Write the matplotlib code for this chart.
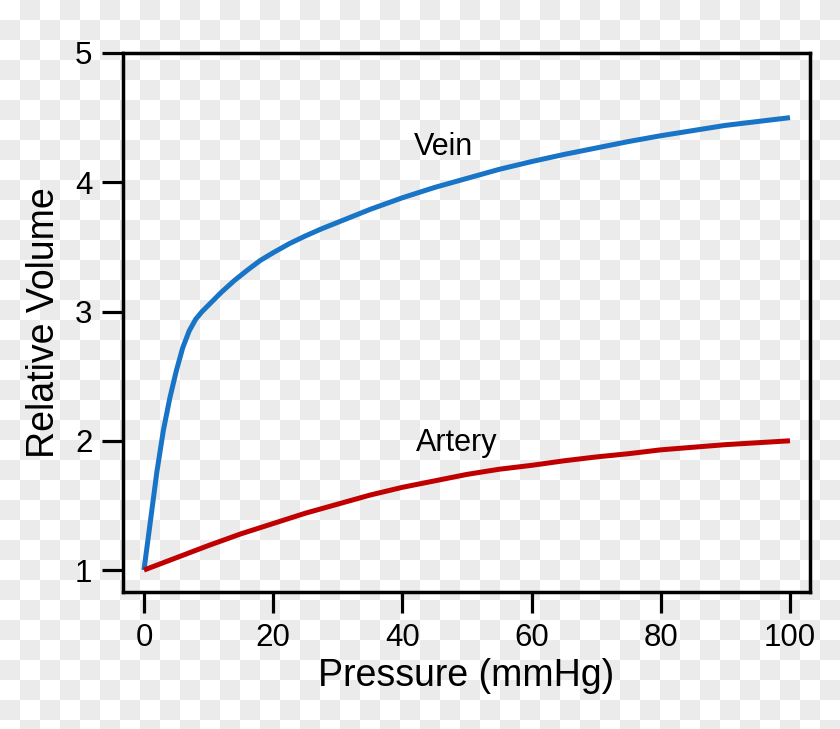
import numpy as np
import matplotlib
matplotlib.use("Agg")
from matplotlib import pyplot as plt

# values
vein_p = [0, 1, 2, 3, 4, 5, 6, 7, 8, 9, 10, 12, 14, 16, 18, 20, 22.5, 25, 27.5,
          30, 35, 40, 45, 50, 55, 60, 65, 70, 75, 80, 85, 90, 95, 100]
vein_v = [1.0, 1.38, 1.76, 2.08, 2.33, 2.54, 2.72, 2.85, 2.94, 3.0, 3.05, 3.15,
          3.24, 3.32, 3.395, 3.455, 3.525, 3.585, 3.64, 3.69, 3.79, 3.88, 3.96,
          4.03, 4.10, 4.16, 4.215, 4.265, 4.315, 4.36, 4.40, 4.44, 4.47, 4.50]
artery_p = [0, 5, 10, 15, 20, 25, 30, 35, 40, 45, 50, 55, 60, 65, 70, 75, 80,
            85, 90, 95, 100]
artery_v = [1.0, 1.095, 1.19, 1.28, 1.36, 1.44, 1.51, 1.58, 1.64, 1.69, 1.74,
            1.78, 1.81, 1.845, 1.875, 1.90, 1.93, 1.95, 1.97, 1.985, 2.0]
x_ticks = [0, 20, 40, 60, 80, 100]
y_ticks = [1, 2, 3, 4, 5]

plt.rcParams['font.family'] = ['Liberation Sans', 'DejaVu Sans']

fig = plt.figure(figsize=(8.4, 7.29), dpi=100)
fig.patch.set_facecolor('white')

# checkerboard background like the reference
h, w = 729, 840
yy, xx = np.indices((h, w))
checker = (yy // 20 + xx // 20) % 2
bg = np.ones((h, w, 3))
bg[checker == 1] = 0.922
fig.figimage(bg, 0, 0, origin='upper', zorder=-10)

ax = fig.add_axes([0.1464, 0.1879, 0.8179, 0.7394])
ax.patch.set_alpha(0)

ax.plot(vein_p, vein_v, color='#1874c6', linewidth=3.6, solid_capstyle='butt',
        solid_joinstyle='round')
ax.plot(artery_p, artery_v, color='#c00000', linewidth=3.6, solid_capstyle='butt',
        solid_joinstyle='round')

ax.text(46.4, 4.21, 'Vein', fontsize=22, ha='center', va='baseline')
ax.text(48.45, 1.92, 'Artery', fontsize=22, ha='center', va='baseline')

ax.set_xlim(-3.25, 103.1)
ax.set_ylim(0.83, 5)
ax.set_xticks(x_ticks)
ax.set_yticks(y_ticks)
ax.set_xlabel('Pressure (mmHg)', fontsize=27, labelpad=4)
ax.set_ylabel('Relative Volume', fontsize=27, labelpad=9)
ax.tick_params(direction='out', length=15, width=2.3, labelsize=22.5, pad=7)

for s in ax.spines.values():
    s.set_linewidth(2.5)

fig.savefig('out.png', dpi=100)
